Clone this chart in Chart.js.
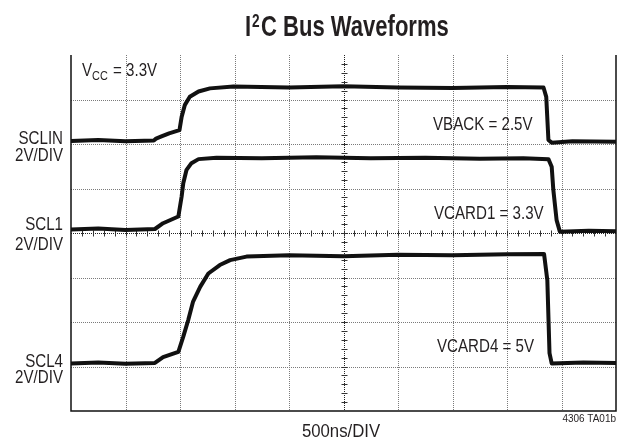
<!DOCTYPE html>
<html>
<head>
<meta charset="utf-8">
<script src="https://cdn.jsdelivr.net/npm/chart.js@4"></script>
<style>
  body { margin: 0; background: #fff; }
  #wrap { width: 623px; height: 438px; position: relative; }
</style>
</head>
<body>
<div id="wrap"><canvas id="scope"></canvas></div>
<script>
// time in ns (500ns/DIV, 10 divisions), level in screen divisions (0 = bottom, 8 = top)
const sclinT = [0, 250, 500, 760, 780, 830, 900, 995, 1015, 1045, 1090, 1170, 1275, 1490, 2000, 2500, 3000, 3500, 4000, 4335, 4360, 4380, 4410, 4600, 5000];
const sclinV = [6.07, 6.09, 6.06, 6.08, 6.12, 6.17, 6.24, 6.31, 6.61, 6.88, 7.06, 7.18, 7.25, 7.29, 7.27, 7.30, 7.27, 7.26, 7.28, 7.27, 7.06, 6.09, 6.03, 6.06, 6.05];

const scl1T = [0, 250, 500, 770, 845, 985, 1015, 1030, 1060, 1105, 1170, 1335, 1750, 2250, 2750, 3250, 3750, 4150, 4380, 4410, 4425, 4455, 4485, 4750, 5000];
const scl1V = [4.08, 4.10, 4.07, 4.09, 4.22, 4.37, 4.82, 5.12, 5.42, 5.57, 5.66, 5.69, 5.68, 5.70, 5.68, 5.69, 5.67, 5.68, 5.66, 5.49, 4.97, 4.29, 4.03, 4.05, 4.04];

const scl4T = [0, 250, 500, 770, 845, 985, 1030, 1075, 1120, 1185, 1260, 1365, 1460, 1610, 2000, 2500, 3000, 3500, 4000, 4340, 4370, 4390, 4410, 4700, 5000];
const scl4V = [1.07, 1.09, 1.06, 1.08, 1.21, 1.33, 1.67, 2.04, 2.46, 2.79, 3.09, 3.28, 3.39, 3.47, 3.50, 3.48, 3.51, 3.50, 3.52, 3.53, 2.94, 1.30, 1.07, 1.09, 1.08];

const xDivs = 10;
const yDivs = 8;
const nsPerDiv = 500;

function toPoints(t, v) {
    return t.map((x, i) => ({ x: x, y: v[i] }));
}

// condensed text helper
function label(ctx, str, x, y, size, opts) {
    opts = opts || {};
    ctx.save();
    ctx.font = (opts.bold ? 'bold ' : '') + size + 'px "Liberation Sans", Arial, sans-serif';
    ctx.fillStyle = opts.color || '#231f20';
    ctx.textBaseline = 'alphabetic';
    ctx.textAlign = opts.align || 'left';
    ctx.translate(x, y);
    ctx.scale(opts.sx || 0.84, 1);
    ctx.fillText(str, 0, 0);
    ctx.restore();
}

// draws grid, crosshair ticks, border (no top edge, like the scope shot)
const scopeGrid = {
    id: 'scopeGrid',
    beforeDatasetsDraw(chart) {
        const ctx = chart.ctx;
        const xs = chart.scales.x;
        const ys = chart.scales.y;
        const a = chart.chartArea;
        ctx.save();
        ctx.lineWidth = 1;
        ctx.strokeStyle = '#7a7a7a';
        ctx.setLineDash([1, 1]);
        for (let i = 1; i < xDivs; i++) {
            const px = Math.round(xs.getPixelForValue(i * nsPerDiv)) + 0.5;
            ctx.beginPath();
            ctx.moveTo(px, a.top);
            ctx.lineTo(px, a.bottom);
            ctx.stroke();
        }
        for (let j = 1; j < yDivs; j++) {
            const py = Math.round(ys.getPixelForValue(j)) + 0.5;
            ctx.beginPath();
            ctx.moveTo(a.left, py);
            ctx.lineTo(a.right, py);
            ctx.stroke();
        }
        // center lines darker with minor ticks
        const cx = Math.round(xs.getPixelForValue(xDivs / 2 * nsPerDiv)) + 0.5;
        const cy = Math.round(ys.getPixelForValue(yDivs / 2)) + 0.5;
        ctx.strokeStyle = '#222';
        ctx.beginPath();
        ctx.moveTo(cx, a.top);
        ctx.lineTo(cx, a.bottom);
        ctx.moveTo(a.left, cy);
        ctx.lineTo(a.right, cy);
        ctx.stroke();
        ctx.setLineDash([]);
        ctx.strokeStyle = '#333';
        ctx.beginPath();
        for (let k = 1; k < xDivs * 5; k++) {
            const px = Math.round(xs.getPixelForValue(k * nsPerDiv / 5)) + 0.5;
            ctx.moveTo(px, cy - 3);
            ctx.lineTo(px, cy + 3);
        }
        for (let k = 1; k < yDivs * 5; k++) {
            const py = Math.round(ys.getPixelForValue(k / 5)) + 0.5;
            ctx.moveTo(cx - 3, py);
            ctx.lineTo(cx + 3, py);
        }
        ctx.stroke();
        ctx.restore();
    },
    afterDraw(chart) {
        const ctx = chart.ctx;
        const a = chart.chartArea;
        ctx.save();
        ctx.strokeStyle = '#111';
        ctx.lineWidth = 1.5;
        ctx.beginPath();
        ctx.moveTo(a.left, a.top);
        ctx.lineTo(a.left, a.bottom);
        ctx.lineTo(a.right, a.bottom);
        ctx.lineTo(a.right, a.top);
        ctx.stroke();
        ctx.restore();

        // title with superscript
        label(ctx, 'I', 245, 36, 29, { bold: true, sx: 0.76 });
        label(ctx, '2', 252, 27, 18, { bold: true, sx: 0.76 });
        label(ctx, 'C Bus Waveforms', 261, 36, 29, { bold: true, sx: 0.76 });

        // channel labels
        label(ctx, 'SCLIN', 63, 144, 18, { align: 'right' });
        label(ctx, '2V/DIV', 63, 161, 18, { align: 'right' });
        label(ctx, 'SCL1', 63, 230, 18, { align: 'right' });
        label(ctx, '2V/DIV', 63, 250, 18, { align: 'right' });
        label(ctx, 'SCL4', 63, 367, 18, { align: 'right' });
        label(ctx, '2V/DIV', 63, 383, 18, { align: 'right' });

        // supply annotations
        label(ctx, 'V', 82, 76, 18);
        label(ctx, 'CC', 92, 80, 13);
        label(ctx, '= 3.3V', 113, 76, 18);
        label(ctx, 'VBACK = 2.5V', 433, 130, 18);
        label(ctx, 'VCARD1 = 3.3V', 434, 219, 18);
        label(ctx, 'VCARD4 = 5V', 437, 352, 18);

        label(ctx, '500ns/DIV', 341, 437, 18, { align: 'center', sx: 0.93 });
        label(ctx, '4306 TA01b', 616, 422, 10.5, { align: 'right', sx: 0.95 });
    }
};

const traceStyle = {
    borderColor: '#111',
    borderWidth: 4,
    pointRadius: 0,
    tension: 0,
    fill: false,
    borderJoinStyle: 'round',
    borderCapStyle: 'round'
};

new Chart(document.getElementById('scope').getContext('2d'), {
    type: 'line',
    data: {
        datasets: [
            Object.assign({ label: 'SCLIN', data: toPoints(sclinT, sclinV) }, traceStyle),
            Object.assign({ label: 'SCL1', data: toPoints(scl1T, scl1V) }, traceStyle),
            Object.assign({ label: 'SCL4', data: toPoints(scl4T, scl4V) }, traceStyle)
        ]
    },
    options: {
        responsive: true,
        maintainAspectRatio: false,
        animation: false,
        layout: { padding: { left: 71, right: 7, top: 55, bottom: 27 } },
        scales: {
            x: { type: 'linear', min: 0, max: xDivs * nsPerDiv, display: false },
            y: { type: 'linear', min: 0, max: yDivs, display: false }
        },
        plugins: {
            legend: { display: false },
            tooltip: { enabled: false }
        }
    },
    plugins: [scopeGrid]
});
</script>
</body>
</html>
